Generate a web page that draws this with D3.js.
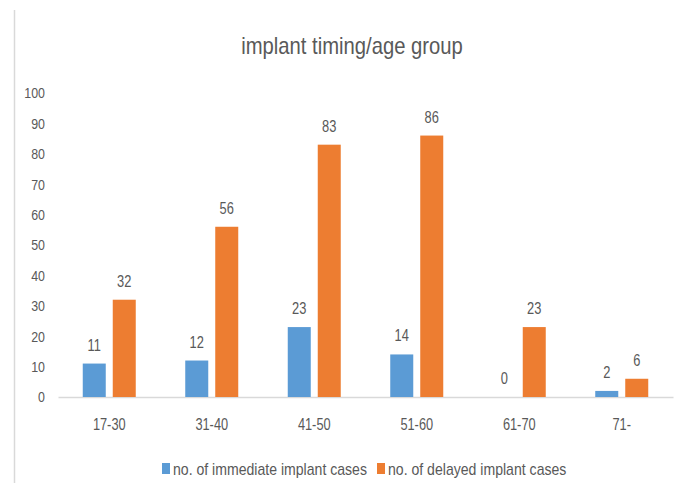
<!DOCTYPE html>
<html>
<head>
<meta charset="utf-8">
<script src="https://cdn.jsdelivr.net/npm/d3@7"></script>
<style>
  html, body { margin: 0; padding: 0; background: #fff; }
  svg text { font-family: "Liberation Sans", Arial, sans-serif; fill: #595959; }
</style>
</head>
<body>
<svg id="chart" width="681" height="483"></svg>
<script>
// Age groups and case counts per implant timing
const categories = ["17-30", "31-40", "41-50", "51-60", "61-70", "71-"];
const immediateCases = [11, 12, 23, 14, 0, 2];
const delayedCases = [32, 56, 83, 86, 23, 6];
const seriesNames = ["no. of immediate implant cases", "no. of delayed implant cases"];
const seriesColors = ["#5B9BD5", "#ED7D31"];
const yTicks = [0, 10, 20, 30, 40, 50, 60, 70, 80, 90, 100];

const svg = d3.select("#chart");
const margin = { left: 58, right: 8, top: 93, bottom: 86 };
const W = 681, H = 483;

// narrow the glyphs horizontally around each text's own anchor x
function squeeze(sel, k) {
  sel.each(function () {
    const t = d3.select(this);
    const ax = +(t.attr("x") || 0);
    t.attr("transform", `translate(${ax},0) scale(${k},1) translate(${-ax},0)`);
  });
}

// frame edge on the left
svg.append("line")
  .attr("x1", 14.5).attr("x2", 14.5).attr("y1", 10).attr("y2", H)
  .attr("stroke", "#d9d9d9").attr("stroke-width", 1.5);

const x0 = d3.scaleBand().domain(categories).range([margin.left, W - margin.right]).padding(0);
const groupW = 53;
const x1 = d3.scaleBand().domain([0, 1]).range([0, groupW]).paddingInner(0.233);
const y = d3.scaleLinear().domain([0, 100]).range([H - margin.bottom, margin.top]);

// title
svg.append("text")
  .attr("x", 352).attr("y", 54)
  .attr("text-anchor", "middle")
  .style("font-size", "23px")
  .text("implant timing/age group")
  .call(squeeze, 0.88);

// y axis labels (no axis line)
const yAxis = d3.axisLeft(y).tickValues(yTicks).tickSize(0).tickPadding(13);
const gy = svg.append("g").attr("transform", `translate(${margin.left},0)`).call(yAxis);
gy.select(".domain").remove();
gy.selectAll("text").style("font-size", "15.5px").attr("fill", "#595959").call(squeeze, 0.8);

// category axis
const xAxis = d3.axisBottom(x0).tickSize(0).tickPadding(22);
const gx = svg.append("g").attr("transform", `translate(0,${y(0)})`).call(xAxis);
gx.select(".domain").attr("stroke", "#d9d9d9").attr("stroke-width", 1.5);
gx.selectAll("text").style("font-size", "16px").attr("fill", "#595959").call(squeeze, 0.8);

const series = [immediateCases, delayedCases];
series.forEach((vals, si) => {
  const g = svg.append("g");
  const off = (x0.bandwidth() - groupW) / 2 + x1(si);
  g.selectAll("rect").data(vals).enter().append("rect")
    .attr("x", (d, i) => x0(categories[i]) + off)
    .attr("width", x1.bandwidth())
    .attr("y", d => y(d))
    .attr("height", d => y(0) - y(d))
    .attr("fill", seriesColors[si]);
  g.selectAll("text").data(vals).enter().append("text")
    .attr("x", (d, i) => x0(categories[i]) + off + x1.bandwidth() / 2)
    .attr("y", d => y(d) - 13)
    .attr("text-anchor", "middle")
    .style("font-size", "16.5px")
    .text(d => d)
    .call(squeeze, 0.78);
});

// legend
const legendX = [162, 377];
seriesNames.forEach((name, i) => {
  const g = svg.append("g").attr("transform", `translate(${legendX[i]},463)`);
  g.append("rect").attr("x", 0).attr("y", 0).attr("width", 8).attr("height", 11).attr("fill", seriesColors[i]);
  g.append("text").attr("x", 11).attr("y", 12).style("font-size", "16px").text(name).call(squeeze, 0.88);
});
</script>
</body>
</html>
